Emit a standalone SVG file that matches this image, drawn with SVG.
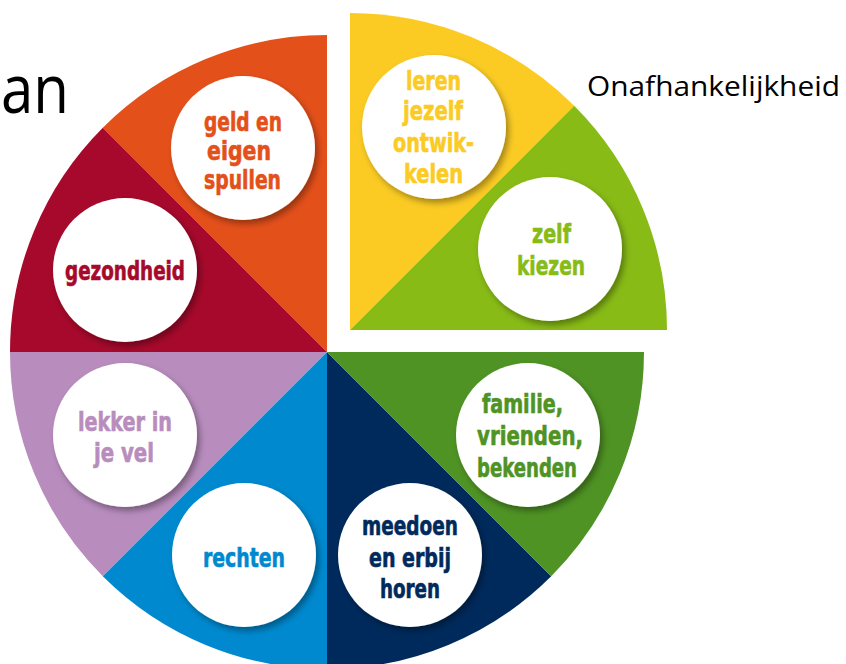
<svg xmlns="http://www.w3.org/2000/svg" width="846" height="664" viewBox="0 0 846 664">
<defs>
<style>
.lbl{font-family:"DejaVu Sans Condensed","DejaVu Sans","Liberation Sans",sans-serif;font-weight:bold;font-size:26px;stroke-width:0.6px}
.disc{fill:#ffffff;stroke:none;filter:url(#sh)}
.title{font-family:"Open Sans","Noto Sans","Liberation Sans",sans-serif;fill:#000000}
</style>
<filter id="sh" x="-30%" y="-30%" width="160%" height="160%">
<feDropShadow dx="3" dy="4" stdDeviation="3" flood-color="#000000" flood-opacity="0.35"/>
</filter>
</defs>
<rect x="0" y="0" width="846" height="664" fill="#ffffff"/>
<text class="title" x="1" y="113" font-size="68" font-weight="500" textLength="68" lengthAdjust="spacingAndGlyphs">an</text>
<text class="title" x="587" y="96" font-size="28" font-weight="500" textLength="253" lengthAdjust="spacingAndGlyphs">Onafhankelijkheid</text>
<g id="segments">
<path d="M327,352 L327,35 A317,317 0 0 0 102.8,127.8 Z" fill="#E4501A"/>
<path d="M327,352 L102.8,127.8 A317,317 0 0 0 10,352 Z" fill="#A6092B"/>
<path d="M327,352 L10,352 A317,317 0 0 0 102.8,576.2 Z" fill="#B88DBE"/>
<path d="M327,352 L102.8,576.2 A317,317 0 0 0 327,669 Z" fill="#0089CF"/>
<path d="M327,352 L327,669 A317,317 0 0 0 551.2,576.2 Z" fill="#002A5C"/>
<path d="M327,352 L551.2,576.2 A317,317 0 0 0 644,352 Z" fill="#4F9324"/>
<path d="M350,330 L350,13 A317,317 0 0 1 574.2,105.8 Z" fill="#FBCB24"/>
<path d="M350,330 L574.2,105.8 A317,317 0 0 1 667,330 Z" fill="#88BB16"/>
</g>
<g id="node-geld" fill="#E4501A" stroke="#E4501A">
<circle class="disc" cx="243" cy="148" r="72"/>
<text class="lbl" x="204" y="131" textLength="78" lengthAdjust="spacingAndGlyphs">geld en</text>
<text class="lbl" x="207" y="160" textLength="64" lengthAdjust="spacingAndGlyphs">eigen</text>
<text class="lbl" x="204" y="189" textLength="77" lengthAdjust="spacingAndGlyphs">spullen</text>
</g>
<g id="node-gezondheid" fill="#A6092B" stroke="#A6092B">
<circle class="disc" cx="125" cy="270" r="72"/>
<text class="lbl" x="65" y="280" textLength="120" lengthAdjust="spacingAndGlyphs">gezondheid</text>
</g>
<g id="node-lekker" fill="#B88DBE" stroke="#B88DBE">
<circle class="disc" cx="125" cy="435" r="72"/>
<text class="lbl" x="78" y="431" textLength="94" lengthAdjust="spacingAndGlyphs">lekker in</text>
<text class="lbl" x="94" y="462" textLength="60" lengthAdjust="spacingAndGlyphs">je vel</text>
</g>
<g id="node-rechten" fill="#0089CF" stroke="#0089CF">
<circle class="disc" cx="244" cy="555" r="72"/>
<text class="lbl" x="203" y="567" textLength="82" lengthAdjust="spacingAndGlyphs">rechten</text>
</g>
<g id="node-meedoen" fill="#002A5C" stroke="#002A5C">
<circle class="disc" cx="410" cy="555" r="72"/>
<text class="lbl" x="362" y="535" textLength="96" lengthAdjust="spacingAndGlyphs">meedoen</text>
<text class="lbl" x="369" y="567" textLength="82" lengthAdjust="spacingAndGlyphs">en erbij</text>
<text class="lbl" x="380" y="598" textLength="60" lengthAdjust="spacingAndGlyphs">horen</text>
</g>
<g id="node-familie" fill="#4F9324" stroke="#4F9324">
<circle class="disc" cx="528" cy="435" r="72"/>
<text class="lbl" x="482" y="413" textLength="81" lengthAdjust="spacingAndGlyphs">familie,</text>
<text class="lbl" x="477" y="445" textLength="106" lengthAdjust="spacingAndGlyphs">vrienden,</text>
<text class="lbl" x="477" y="477" textLength="100" lengthAdjust="spacingAndGlyphs">bekenden</text>
</g>
<g id="node-leren" fill="#FBCB24" stroke="#FBCB24">
<circle class="disc" cx="434" cy="127" r="72"/>
<text class="lbl" x="406" y="90" textLength="55" lengthAdjust="spacingAndGlyphs">leren</text>
<text class="lbl" x="403" y="120" textLength="60" lengthAdjust="spacingAndGlyphs">jezelf</text>
<text class="lbl" x="393" y="152" textLength="81" lengthAdjust="spacingAndGlyphs">ontwik-</text>
<text class="lbl" x="404" y="183" textLength="59" lengthAdjust="spacingAndGlyphs">kelen</text>
</g>
<g id="node-zelf" fill="#88BB16" stroke="#88BB16">
<circle class="disc" cx="550" cy="249" r="72"/>
<text class="lbl" x="532" y="243" textLength="39" lengthAdjust="spacingAndGlyphs">zelf</text>
<text class="lbl" x="517" y="275" textLength="68" lengthAdjust="spacingAndGlyphs">kiezen</text>
</g>
<g id="connectors"></g>
</svg>
